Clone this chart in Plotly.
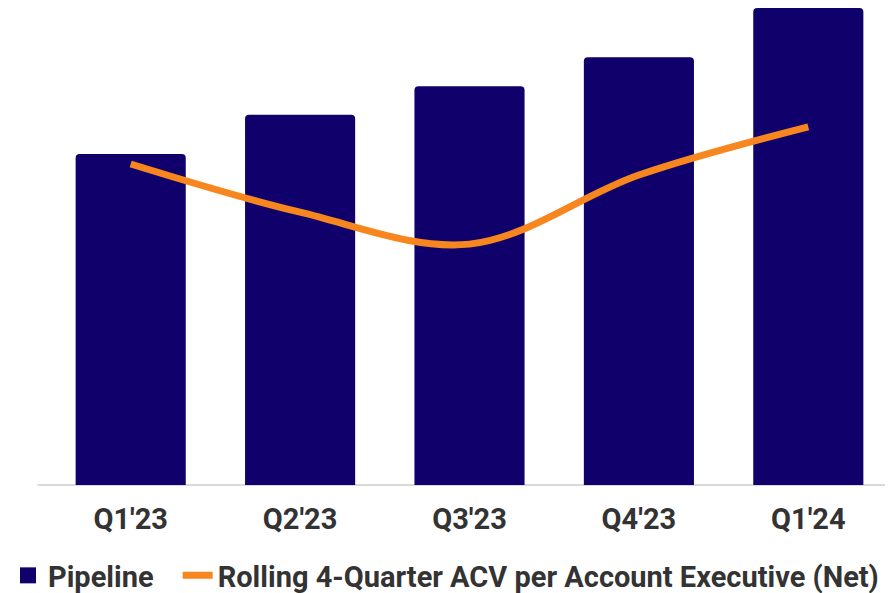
import plotly.graph_objects as go

quarters = ["Q1'23", "Q2'23", "Q3'23", "Q4'23", "Q1'24"]
pipeline = [6.94, 7.76, 8.36, 8.97, 10.0]
acv_per_ae = [6.73, 5.72, 5.05, 6.50, 7.51]

BAR = "#10006B"
ORANGE = "#F7861E"
TEXT = "#333333"

fig = go.Figure()
fig.add_trace(go.Bar(
    x=quarters, y=pipeline, name="Pipeline",
    marker=dict(color=BAR, line=dict(width=0)), showlegend=False,
))
# legend entry for bars with a larger square symbol
fig.add_trace(go.Scatter(
    x=[None], y=[None], name="Pipeline", mode="markers",
    marker=dict(color=BAR, symbol="square", size=16), legend="legend",
))
fig.add_trace(go.Scatter(
    x=quarters, y=acv_per_ae, name="Rolling 4-Quarter ACV per Account Executive (Net)",
    mode="lines", line=dict(color=ORANGE, width=7, shape="spline", smoothing=1.0),
    yaxis="y2", legend="legend2",
))

legend_font = dict(family="Roboto", size=29, color=TEXT, weight="bold")

fig.update_layout(
    width=893, height=593,
    margin=dict(l=38, r=8, t=0, b=116, autoexpand=False),
    paper_bgcolor="white", plot_bgcolor="white",
    bargap=0.35, barcornerradius=4,
    font=dict(family="Roboto", size=29, color=TEXT),
    showlegend=True,
    legend=dict(orientation="h", xref="container", yref="container",
                x=0.0, xanchor="left", y=-0.02, yanchor="bottom",
                font=legend_font, itemwidth=30),
    legend2=dict(orientation="h", xref="container", yref="container",
                 x=0.19, xanchor="left", y=-0.02, yanchor="bottom",
                 font=legend_font, itemwidth=30),
    xaxis=dict(showgrid=False, zeroline=False, showline=False, ticks="",
               ticklabelstandoff=14,
               tickfont=dict(family="Roboto", size=29, color=TEXT, weight="bold")),
    yaxis=dict(range=[0, 10.0], visible=False, showgrid=False, zeroline=False),
    yaxis2=dict(range=[0, 10.0], overlaying="y", visible=False, showgrid=False, zeroline=False),
    hovermode=False,
    shapes=[dict(type="line", xref="paper", yref="paper", x0=-0.01, x1=1.01, y0=0, y1=0,
                 line=dict(color="#CCCCCC", width=1.5), layer="below")],
)

fig.write_html("out.html")
